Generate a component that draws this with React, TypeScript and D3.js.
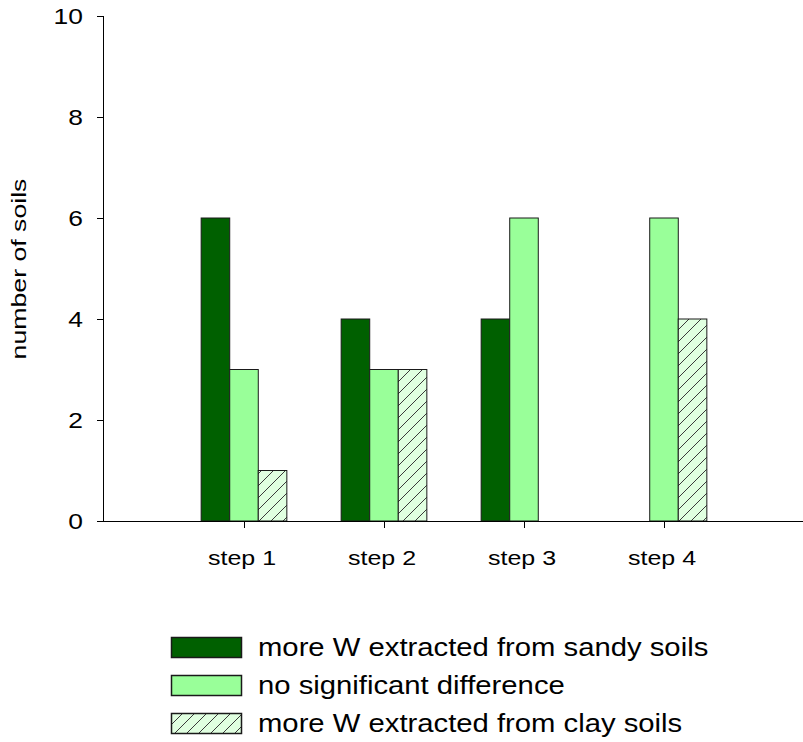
import React, { useEffect, useRef } from "react";
import * as d3 from "d3";

// Number of soils per extraction step, grouped by outcome
const categories = ["step 1", "step 2", "step 3", "step 4"];
const sandyValues = [6, 4, 4, 0];
const noDiffValues = [3, 3, 6, 6];
const clayValues = [1, 3, 0, 4];
const yTicks = [0, 2, 4, 6, 8, 10];
const seriesLabels = [
  "more W extracted from sandy soils",
  "no significant difference",
  "more W extracted from clay soils",
];

const W = 803;
const H = 742;
const FONT = "'Liberation Sans', Arial, sans-serif";

// stretch a text node along its own baseline by factor k
function widen(sel: d3.Selection<SVGTextElement, any, any, any>, k: number) {
  sel.each(function () {
    const len = this.getComputedTextLength();
    this.setAttribute("textLength", String(len * k));
    this.setAttribute("lengthAdjust", "spacingAndGlyphs");
  });
}

export default function App() {
  const ref = useRef<SVGSVGElement>(null);

  useEffect(() => {
    const svg = d3.select(ref.current);
    svg.selectAll("*").remove();

    const x = d3.scaleLinear().domain([0, 5]).range([104, 804]);
    const y = d3.scaleLinear().domain([0, 10]).range([521, 16]);
    const barW = x(0.204) - x(0);

    const defs = svg.append("defs");
    const pat = defs
      .append("pattern")
      .attr("id", "hatch")
      .attr("patternUnits", "userSpaceOnUse")
      .attr("width", 12)
      .attr("height", 12);
    pat.append("rect").attr("width", 12).attr("height", 12).attr("fill", "#e0ffe0");
    pat
      .append("path")
      .attr("d", "M-3,3 L3,-3 M0,12 L12,0 M9,15 L15,9")
      .attr("stroke", "#3a3a3a")
      .attr("stroke-width", 1);

    const series = [
      { values: sandyValues, fill: "#006000" },
      { values: noDiffValues, fill: "#99ff99" },
      { values: clayValues, fill: "url(#hatch)" },
    ];

    // bars
    series.forEach((s, si) => {
      svg
        .append("g")
        .selectAll("rect")
        .data(categories.map((c, i) => ({ i, v: s.values[i] })).filter((d) => d.v > 0))
        .join("rect")
        .attr("x", (d) => x(d.i + 1) - 1.5 * barW + si * barW)
        .attr("y", (d) => y(d.v))
        .attr("width", barW)
        .attr("height", (d) => y(0) - y(d.v))
        .attr("fill", s.fill)
        .attr("stroke", "#1a1a1a")
        .attr("stroke-width", 1);
    });

    // y axis
    svg
      .append("line")
      .attr("x1", 103.5)
      .attr("x2", 103.5)
      .attr("y1", y(10))
      .attr("y2", y(0))
      .attr("stroke", "#000");
    const yt = svg.append("g").selectAll("g").data(yTicks).join("g");
    yt.append("line")
      .attr("x1", 97)
      .attr("x2", 103)
      .attr("y1", (d) => y(d) + 0.5)
      .attr("y2", (d) => y(d) + 0.5)
      .attr("stroke", "#000");
    const ytText = yt
      .append("text")
      .attr("x", 83)
      .attr("y", (d) => y(d) + 8)
      .attr("text-anchor", "end")
      .attr("font-family", FONT)
      .attr("font-size", 22)
      .attr("fill", "#000")
      .text((d) => String(d));
    widen(ytText as any, 1.2);

    // x axis
    svg
      .append("line")
      .attr("x1", 103)
      .attr("x2", 803)
      .attr("y1", y(0) + 0.5)
      .attr("y2", y(0) + 0.5)
      .attr("stroke", "#000");
    const xt = svg.append("g").selectAll("g").data(categories).join("g");
    xt.append("line")
      .attr("x1", (_d, i) => x(i + 1) + 0.5)
      .attr("x2", (_d, i) => x(i + 1) + 0.5)
      .attr("y1", y(0))
      .attr("y2", y(0) + 7)
      .attr("stroke", "#000");
    const xtText = xt
      .append("text")
      .attr("x", (_d, i) => x(i + 1) - 2)
      .attr("y", 565)
      .attr("text-anchor", "middle")
      .attr("font-family", FONT)
      .attr("font-size", 21)
      .attr("fill", "#000")
      .text((d) => d);
    widen(xtText as any, 1.19);

    // y axis title
    const yl = svg
      .append("text")
      .attr("transform", `translate(26, 269) rotate(-90)`)
      .attr("text-anchor", "middle")
      .attr("font-family", FONT)
      .attr("font-size", 21)
      .attr("fill", "#000")
      .text("number of soils");
    widen(yl as any, 1.27);

    // legend
    const lg = svg
      .append("g")
      .selectAll("g")
      .data(series.map((s, i) => ({ ...s, label: seriesLabels[i], i })))
      .join("g")
      .attr("transform", (d) => `translate(171, ${637 + d.i * 38})`);
    lg.append("rect")
      .attr("x", 0.5)
      .attr("y", 0.5)
      .attr("width", 70)
      .attr("height", 20)
      .attr("fill", (d) => d.fill)
      .attr("stroke", "#1a1a1a")
      .attr("stroke-width", 1.5);
    const lgText = lg
      .append("text")
      .attr("x", 87)
      .attr("y", 19)
      .attr("font-family", FONT)
      .attr("font-size", 25)
      .attr("fill", "#000")
      .text((d) => d.label);
    widen(lgText as any, 1.17);
  }, []);

  return (
    <svg
      ref={ref}
      width={W}
      height={H}
      style={{ position: "absolute", left: 0, top: 0, background: "#fff" }}
    />
  );
}
